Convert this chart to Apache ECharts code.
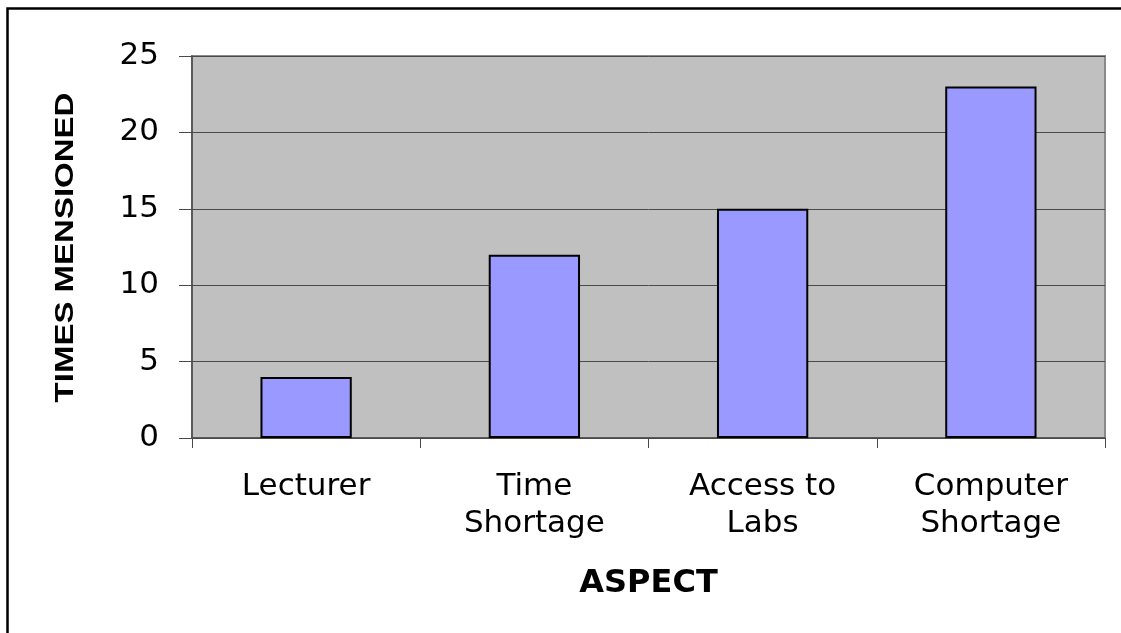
<!DOCTYPE html>
<html>
<head>
<meta charset="utf-8">
<script src="https://cdn.jsdelivr.net/npm/echarts@6/dist/echarts.min.js"></script>
<style>
  html, body { margin: 0; padding: 0; background: #ffffff; }
  #chart { width: 1121px; height: 633px; }
</style>
</head>
<body>
<div id="chart"></div>
<script>
// Aspects mentioned and how many times each one came up
const categories = ['Lecturer', 'Time\nShortage', 'Access to\nLabs', 'Computer\nShortage'];
const timesMentioned = [4, 12, 15, 23];
const yTicks = { min: 0, max: 25, interval: 5 };
const xTitle = 'ASPECT';
const yTitle = 'TIMES MENSIONED';

const LABEL_FONT = '"DejaVu Sans", "Liberation Sans", Arial, sans-serif';
const chart = echarts.init(document.getElementById('chart'), null, { renderer: 'canvas' });

chart.setOption({
  backgroundColor: '#ffffff',
  animation: false,
  graphic: [
    {
      // outer frame of the chart area
      type: 'rect',
      shape: { x: 7.5, y: 8.5, width: 1300, height: 800 },
      style: { fill: 'none', stroke: '#000000', lineWidth: 2.5 },
      silent: true
    },
    {
      // vertical axis title, stretched along its reading direction
      type: 'text',
      x: 66, y: 247.5,
      rotation: Math.PI / 2,
      scaleX: 1.32, scaleY: 1,
      style: {
        text: yTitle,
        font: 'bold 25px "Liberation Sans", Arial, sans-serif',
        fill: '#000000',
        align: 'center',
        verticalAlign: 'middle'
      },
      silent: true
    }
  ],
  grid: {
    left: 192, top: 56, right: 16, bottom: 195,
    show: true,
    backgroundColor: '#c0c0c0',
    borderColor: '#8a8a8a',
    borderWidth: 2
  },
  xAxis: {
    type: 'category',
    data: categories,
    name: xTitle,
    nameLocation: 'middle',
    nameGap: 130,
    nameTextStyle: { fontFamily: LABEL_FONT, fontSize: 32, fontWeight: 'bold', color: '#000000' },
    axisLine: { show: true, lineStyle: { color: '#4a4a4a', width: 1.5 } },
    axisTick: { show: true, length: 10, lineStyle: { color: '#4a4a4a', width: 1 } },
    axisLabel: {
      fontFamily: LABEL_FONT, fontSize: 31, color: '#000000',
      margin: 30, lineHeight: 37, align: 'center'
    },
    splitLine: { show: false }
  },
  yAxis: {
    type: 'value',
    min: yTicks.min, max: yTicks.max, interval: yTicks.interval,
    axisLine: { show: true, lineStyle: { color: '#4a4a4a', width: 1.5 } },
    axisTick: { show: true, length: 13, lineStyle: { color: '#4a4a4a', width: 1 } },
    axisLabel: { fontFamily: LABEL_FONT, fontSize: 31, color: '#000000', margin: 33 },
    splitLine: { show: true, lineStyle: { color: '#4a4a4a', width: 1 } }
  },
  series: [{
    type: 'bar',
    data: timesMentioned,
    barWidth: '40%',
    itemStyle: { color: '#9999ff', borderColor: '#000000', borderWidth: 2 }
  }]
});
</script>
</body>
</html>
